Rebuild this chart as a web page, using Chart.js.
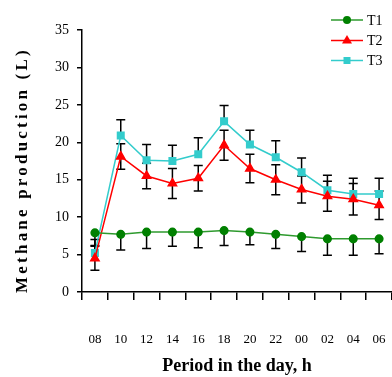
<!DOCTYPE html>
<html>
<head>
<meta charset="utf-8">
<script src="https://cdn.jsdelivr.net/npm/chart.js@4/dist/chart.umd.min.js"></script>
<style>
  html, body { margin: 0; padding: 0; background: #fff; }
  #wrap { width: 392px; height: 377px; position: relative; }
</style>
</head>
<body>
<div id="wrap"><canvas id="methane-chart"></canvas></div>
<script>
// hours of the day (x categories)
const periods = ["08", "10", "12", "14", "16", "18", "20", "22", "00", "02", "04", "06"];

// mean methane production (L)
const t1 = [7.9, 7.7, 8.0, 8.0, 8.0, 8.2, 8.0, 7.7, 7.4, 7.1, 7.1, 7.1];
const t2 = [4.5, 18.1, 15.5, 14.5, 15.2, 19.6, 16.5, 15.0, 13.7, 12.8, 12.4, 11.6];
const t3 = [5.2, 20.9, 17.6, 17.5, 18.4, 22.8, 19.7, 18.0, 16.0, 13.6, 13.1, 13.1];

// error bar half-widths
const t1Err = [1.7, 2.1, 2.2, 1.9, 2.1, 2.0, 1.7, 1.9, 2.0, 2.2, 2.2, 2.0];
const t2Err = [1.6, 1.7, 1.7, 2.0, 1.7, 2.0, 1.9, 2.0, 1.8, 2.0, 2.1, 1.9];
const t3Err = [1.8, 2.1, 2.1, 2.1, 2.2, 2.1, 1.9, 2.2, 1.9, 2.0, 2.1, 2.1];

const yTicks = [0, 5, 10, 15, 20, 25, 30, 35];

const serif = "'Liberation Serif', 'Times New Roman', serif";

// error bars: T1 drawn downward, T2 both ways, T3 upward (as in the figure)
const errorBars = {
    id: "errorBars",
    beforeDatasetsDraw(chart) {
        const { ctx, scales: { x, y } } = chart;
        ctx.save();
        ctx.strokeStyle = "#000";
        ctx.lineWidth = 1.5;
        chart.data.datasets.forEach(ds => {
            ds.errors.forEach((e, i) => {
                const px = x.getPixelForValue(i);
                const v = ds.data[i];
                const top = ds.errDir === "down" ? v : v + e;
                const bot = ds.errDir === "up" ? v : v - e;
                const yt = y.getPixelForValue(top);
                const yb = y.getPixelForValue(bot);
                ctx.beginPath();
                ctx.moveTo(px, yt); ctx.lineTo(px, yb);
                if (ds.errDir !== "down") { ctx.moveTo(px - 4.5, yt); ctx.lineTo(px + 4.5, yt); }
                if (ds.errDir !== "up") { ctx.moveTo(px - 4.5, yb); ctx.lineTo(px + 4.5, yb); }
                ctx.stroke();
            });
        });
        ctx.restore();
    }
};

// legend with line + marker, sitting inside the top right corner
const lineLegend = {
    id: "lineLegend",
    afterDraw(chart) {
        const { ctx } = chart;
        const x0 = 331, x1 = 363, rows = [20, 40.5, 60.5];
        ctx.save();
        chart.data.datasets.forEach((ds, k) => {
            const yy = rows[k];
            ctx.strokeStyle = ds.borderColor;
            ctx.lineWidth = 1.5;
            ctx.beginPath(); ctx.moveTo(x0, yy); ctx.lineTo(x1, yy); ctx.stroke();
            const cx = (x0 + x1) / 2;
            ctx.fillStyle = ds.pointBackgroundColor;
            ctx.beginPath();
            if (ds.pointStyle === "circle") {
                ctx.arc(cx, yy, 4, 0, Math.PI * 2);
            } else if (ds.pointStyle === "triangle") {
                ctx.moveTo(cx, yy - 5.5); ctx.lineTo(cx + 5, yy + 3); ctx.lineTo(cx - 5, yy + 3); ctx.closePath();
            } else {
                ctx.rect(cx - 3.5, yy - 3.5, 7, 7);
            }
            ctx.fill();
            ctx.fillStyle = "#000";
            ctx.font = "14px " + serif;
            ctx.textBaseline = "middle";
            ctx.fillText(ds.label, 367, yy + 1);
        });
        ctx.restore();
    }
};

// spaced-out bold y title
const yTitle = {
    id: "yTitle",
    afterDraw(chart) {
        const { ctx, chartArea } = chart;
        ctx.save();
        ctx.translate(23, (chartArea.top + chartArea.bottom) / 2 + 9);
        ctx.rotate(-Math.PI / 2);
        ctx.font = "bold 17px " + serif;
        ctx.letterSpacing = "3.2px";
        ctx.textAlign = "center";
        ctx.textBaseline = "middle";
        ctx.fillStyle = "#000";
        ctx.fillText("Methane production (L)", 0, 0);
        ctx.restore();
    }
};

new Chart(document.getElementById("methane-chart"), {
    type: "line",
    data: {
        labels: periods,
        datasets: [
            {
                label: "T1", data: t1, errors: t1Err, errDir: "down",
                borderColor: "#2e9a2e", backgroundColor: "#008000",
                pointBackgroundColor: "#008000", pointBorderColor: "#008000",
                pointStyle: "circle", pointRadius: 3.8, borderWidth: 1.5
            },
            {
                label: "T2", data: t2, errors: t2Err, errDir: "both",
                borderColor: "#ff0000", backgroundColor: "#ff0000",
                pointBackgroundColor: "#ff0000", pointBorderColor: "#ff0000",
                pointStyle: "triangle", pointRadius: 4.8, borderWidth: 1.5
            },
            {
                label: "T3", data: t3, errors: t3Err, errDir: "up",
                borderColor: "#33cccc", backgroundColor: "#33cccc",
                pointBackgroundColor: "#33cccc", pointBorderColor: "#33cccc",
                pointStyle: "rect", pointRadius: 4.6, borderWidth: 1.5
            }
        ]
    },
    options: {
        responsive: true,
        maintainAspectRatio: false,
        animation: false,
        layout: { autoPadding: false, padding: { top: 30, right: 0, left: 0, bottom: 0 } },
        plugins: {
            legend: { display: false },
            tooltip: { enabled: false }
        },
        scales: {
            x: {
                offset: true,
                grid: { offset: true, drawOnChartArea: false, tickLength: 8, color: "#000", lineWidth: 1.5 },
                border: { color: "#000", width: 1.5 },
                ticks: { color: "#000", padding: 32, maxRotation: 0, autoSkip: false, font: { family: serif, size: 13 } },
                title: {
                    display: true, text: "Period in the day, h", color: "#000",
                    font: { family: serif, size: 18, weight: "bold" }, padding: { top: 0, bottom: 0 }
                },
                afterFit(scale) {
                    scale.height = 85;
                    // big label padding would otherwise shrink the plot sideways
                    scale.paddingLeft = 0;
                    scale.paddingRight = 0;
                }
            },
            y: {
                min: 0, max: 35,
                afterBuildTicks(scale) { scale.ticks = yTicks.map(v => ({ value: v })); },
                grid: { drawOnChartArea: false, tickLength: 5, color: "#000", lineWidth: 1.5 },
                border: { color: "#000", width: 1.5 },
                ticks: { color: "#000", padding: 8, font: { family: serif, size: 14 } },
                afterFit(scale) { scale.width = 82; }
            }
        }
    },
    plugins: [errorBars, lineLegend, yTitle]
});
</script>
</body>
</html>
